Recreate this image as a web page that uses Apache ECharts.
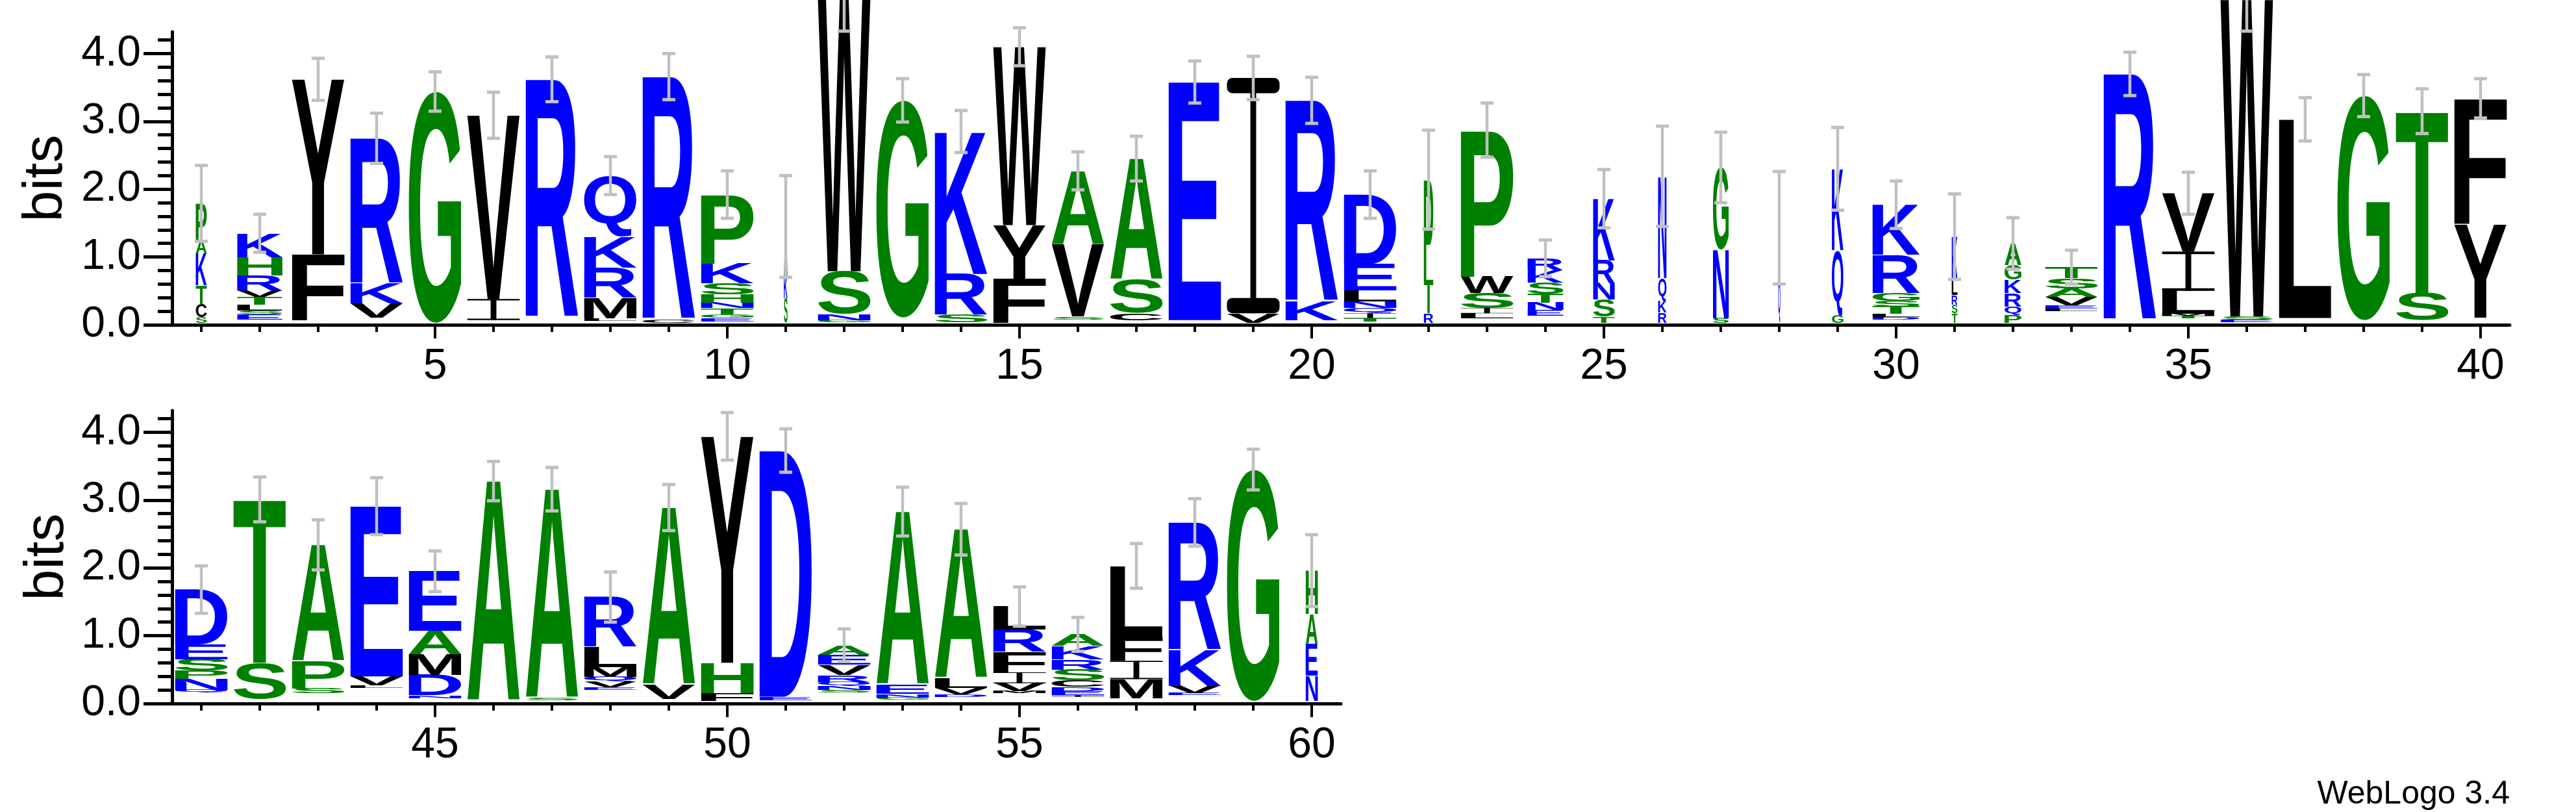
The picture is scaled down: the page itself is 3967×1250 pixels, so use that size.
<!DOCTYPE html>
<html>
<head>
<meta charset="utf-8">
<script src="https://cdn.jsdelivr.net/npm/echarts@6/dist/echarts.min.js"></script>
<style>
html,body{margin:0;padding:0;background:#ffffff;}
#chart{width:3967px;height:1250px;}
</style>
</head>
<body>
<div id="chart"></div>
<script>
// ---------------- DATA ----------------
const positionsTop = [1,2,3,4,5,6,7,8,9,10,11,12,13,14,15,16,17,18,19,20,21,22,23,24,25,26,27,28,29,30,31,32,33,34,35,36,37,38,39,40];
const positionsBottom = [41,42,43,44,45,46,47,48,49,50,51,52,53,54,55,56,57,58,59,60];

// fraction of non-gap sequences (stack width), per position 1..60
const stackWidth = [
  0.21,0.86,1,1,1,1,1,1,1,1,
  0.07,1,1,1,1,1,1,1,1,1,
  1,0.18,1,0.68,0.41,0.16,0.3,0.04,0.22,0.9,
  0.11,0.32,1,1,1,1,1,1,1,1,
  1,1,1,1,1,1,1,1,1,1,
  1,1,1,1,1,1,1,1,1,0.23
];

// bits taken by residues too small to be drawn (bottom of each stack)
const hiddenBits = [
  0.03,0.08,0.07,0.11,0.03,0.07,0.11,0.06,0.03,0.05,
  0.03,0.04,0.11,0.04,0.03,0.08,0.07,0.07,0.03,0.07,
  0.05,0.03,0.10,0.13,0.03,0.03,0.03,0.03,0.03,0.08,
  0.03,0.03,0.20,0.07,0.10,0.04,0.10,0.07,0.07,0.11,
  0.16,0.07,0.15,0.23,0.08,0.04,0.05,0.20,0.07,0.04,
  0.05,0.16,0.06,0.10,0.15,0.10,0.08,0.12,0.04,0.04
];

// half-length of the error bar (bits), per position
const errorBits = [
  0.56,0.28,0.31,0.37,0.29,0.34,0.33,0.28,0.34,0.35,
  0.75,0.47,0.32,0.31,0.28,0.28,0.33,0.31,0.32,0.34,
  0.35,0.73,0.40,0.27,0.43,0.74,0.52,0.83,0.61,0.35,
  0.63,0.38,0.25,0.32,0.31,0.47,0.32,0.31,0.33,0.29,
  0.35,0.33,0.37,0.42,0.30,0.29,0.32,0.37,0.34,0.35,
  0.32,0.24,0.36,0.38,0.29,0.25,0.33,0.35,0.30,0.53
];

// letter stacks, bottom to top: [residue, bits]
const stacks = [
  [['S',0.085],['C',0.195],['T',0.27],['K',0.47],['A',0.2],['P',0.54]],
  [['E',0.07],['S',0.06],['L',0.09],['T',0.11],['V',0.1],['R',0.22],['H',0.27],['K',0.35]],
  [['F',0.97],['Y',2.58]],
  [['V',0.21],['K',0.29],['R',2.14]],
  [['G',3.41]],
  [['I',0.31],['V',2.71]],
  [['R',3.51]],
  [['L',0.04],['M',0.3],['R',0.44],['K',0.46],['Q',0.9]],
  [['C',0.05],['R',3.58]],
  [['E',0.05],['G',0.055],['T',0.09],['N',0.085],['H',0.12],['S',0.165],['K',0.29],['P',1.015]],
  [['S',0.36],['K',0.33],['A',0.73]],
  [['G',0.03],['N',0.09],['S',0.63],['W',4.01]],
  [['G',3.2]],
  [['S',0.11],['R',0.6],['K',2.1]],
  [['F',0.65],['Y',0.79],['W',2.63]],
  [['S',0.04],['V',1.07],['A',1.08]],
  [['C',0.105],['S',0.495],['A',1.78]],
  [['E',3.51]],
  [['V',0.14],['I',3.47]],
  [['K',0.28],['R',2.96]],
  [['T',0.05],['I',0.07],['Q',0.08],['N',0.095],['L',0.16],['E',0.39],['D',1.025]],
  [['R',0.14],['T',0.49],['P',1.48]],
  [['L',0.07],['I',0.08],['S',0.22],['W',0.24],['P',2.16]],
  [['E',0.09],['N',0.105],['T',0.135],['S',0.16],['K',0.185],['R',0.175]],
  [['T',0.09],['S',0.25],['N',0.24],['R',0.34],['K',0.91]],
  [['R',0.15],['K',0.17],['Q',0.34],['N',1.5]],
  [['S',0.07],['N',1.01],['G',1.21]],
  [['Q',0.6],['K',0.8]],
  [['G',0.11],['Q',0.96],['K',1.2]],
  [['D',0.035],['L',0.045],['T',0.11],['S',0.085],['G',0.115],['R',0.56],['K',0.74]],
  [['T',0.14],['S',0.13],['R',0.14],['L',0.23],['K',0.63]],
  [['P',0.11],['Q',0.13],['R',0.2],['K',0.2],['G',0.21],['A',0.32]],
  [['L',0.04],['E',0.05],['V',0.12],['A',0.125],['S',0.155],['T',0.16]],
  [['R',3.63]],
  [['T',0.03],['M',0.03],['L',0.34],['I',0.58],['V',0.86]],
  [['E',0.035],['S',0.05],['W',4.675]],
  [['L',2.93]],
  [['G',3.31]],
  [['S',0.4],['T',2.68]],
  [['Y',1.38],['F',1.85]],
  [['Q',0.04],['N',0.16],['P',0.125],['S',0.17],['E',0.215],['D',0.81]],
  [['S',0.53],['T',2.41]],
  [['S',0.07],['P',0.41],['A',1.71]],
  [['L',0.04],['V',0.13],['E',2.51]],
  [['N',0.04],['D',0.3],['M',0.31],['A',0.34],['E',0.88]],
  [['A',3.24]],
  [['S',0.03],['A',3.08]],
  [['E',0.04],['V',0.085],['Q',0.07],['M',0.145],['L',0.295],['R',0.735]],
  [['V',0.21],['A',2.61]],
  [['F',0.11],['H',0.45],['Y',3.34]],
  [['E',0.05],['D',3.63]],
  [['S',0.04],['N',0.06],['Q',0.06],['R',0.1],['V',0.15],['E',0.15],['A',0.14]],
  [['G',0.03],['N',0.05],['E',0.14],['A',2.55]],
  [['D',0.03],['V',0.1],['L',0.15],['A',2.19]],
  [['M',0.03],['V',0.12],['I',0.16],['F',0.3],['R',0.33],['L',0.34]],
  [['I',0.02],['E',0.06],['D',0.065],['C',0.095],['S',0.16],['R',0.15],['K',0.2],['A',0.17]],
  [['M',0.28],['I',0.27],['F',0.34],['L',1.06]],
  [['E',0.03],['V',0.11],['K',0.53],['R',1.88]],
  [['G',3.41]],
  [['N',0.37],['E',0.46],['A',0.45],['H',0.64]]
];

const yTickValues = [0,1,2,3,4];
const yMinorTickValues = [0.2,0.4,0.6,0.8,1.2,1.4,1.6,1.8,2.2,2.4,2.6,2.8,3.2,3.4,3.6,3.8,4.2];
const xLabelsTop = [5,10,15,20,25,30,35,40];
const xLabelsBottom = [45,50,55,60];
const yMax = 4.32;

// ---------------- STYLE ----------------
const FONT_FAMILY = '"Liberation Sans", Arial, Helvetica, sans-serif';
const GLYPH_PX = 200;
const GLYPH_FONT = 'bold ' + GLYPH_PX + 'px ' + FONT_FAMILY;
const LETTER_FRACTION = 0.9;
const GRAY = '#c0c0c0';
const COLOR = {
  R:'#0000ff',K:'#0000ff',D:'#0000ff',E:'#0000ff',N:'#0000ff',Q:'#0000ff',
  S:'#008000',G:'#008000',H:'#008000',T:'#008000',A:'#008000',P:'#008000',
  Y:'#000000',V:'#000000',M:'#000000',C:'#000000',L:'#000000',F:'#000000',I:'#000000',W:'#000000'
};

const mctx = document.createElement('canvas').getContext('2d');
mctx.font = GLYPH_FONT;
mctx.textBaseline = 'middle';
mctx.textAlign = 'left';
const metricCache = {};
function glyphMetrics(ch) {
  if (!metricCache[ch]) {
    const m = mctx.measureText(ch);
    metricCache[ch] = {
      l: -m.actualBoundingBoxLeft, r: m.actualBoundingBoxRight,
      t: -m.actualBoundingBoxAscent, b: m.actualBoundingBoxDescent
    };
  }
  return metricCache[ch];
}

function glyphElements(ch, x0, x1, yTop, yBot) {
  const w = x1 - x0, h = yBot - yTop;
  const fill = COLOR[ch] || '#000';
  if (h <= 0 || w <= 0) return [];
  if (ch === 'I') {
    const bar = Math.max(0.6, h * 0.065);
    const stem = Math.max(0.8, w * 0.11);
    const r = bar * 0.35;
    return [
      {type:'rect', silent:true, shape:{x:x0, y:yTop, width:w, height:bar, r:r}, style:{fill:fill}},
      {type:'rect', silent:true, shape:{x:x0 + (w - stem)/2, y:yTop, width:stem, height:h}, style:{fill:fill}},
      {type:'rect', silent:true, shape:{x:x0, y:yBot - bar, width:w, height:bar, r:r}, style:{fill:fill}}
    ];
  }
  const m = glyphMetrics(ch);
  const sx = w / (m.r - m.l);
  const sy = h / (m.b - m.t);
  return [{
    type:'text', silent:true,
    x: x0 - sx * m.l, y: yTop - sy * m.t,
    scaleX: sx, scaleY: sy,
    style:{text: ch, x:0, y:0, font: GLYPH_FONT, fill: fill,
           align:'left', verticalAlign:'middle', textAlign:'left', textVerticalAlign:'middle'}
  }];
}

function stackTop(i) {
  let t = hiddenBits[i];
  stacks[i].forEach(function (e) { t += e[1]; });
  return t;
}

function renderLetters(params, api) {
  const pos = api.value(0);
  const i = pos - 1;
  const half = stackWidth[i] * LETTER_FRACTION / 2;
  let base = hiddenBits[i];
  let children = [];
  stacks[i].forEach(function (e) {
    const a = api.coord([pos - half, base]);
    const b = api.coord([pos + half, base + e[1]]);
    children = children.concat(glyphElements(e[0], a[0], b[0], b[1], a[1]));
    base += e[1];
  });
  return {type:'group', children: children};
}

function renderError(params, api) {
  const pos = api.value(0);
  const top = api.value(1);
  const e = errorBits[pos - 1];
  const hi = api.coord([pos, top + e]);
  const lo = api.coord([pos, top - e]);
  const cap = 10;
  const x = hi[0];
  return {type:'group', children:[
    {type:'line', silent:true, shape:{x1:x, y1:hi[1], x2:x, y2:lo[1]}, style:{stroke:GRAY, lineWidth:4.5}},
    {type:'line', silent:true, shape:{x1:x-cap, y1:hi[1], x2:x+cap, y2:hi[1]}, style:{stroke:GRAY, lineWidth:5}},
    {type:'line', silent:true, shape:{x1:x-cap, y1:lo[1], x2:x+cap, y2:lo[1]}, style:{stroke:GRAY, lineWidth:5}}
  ]};
}

function xAxesFor(g, min, max, ticks, labels) {
  return [
    {type:'value', gridIndex:g, min:min, max:max, position:'bottom',
     axisLine:{show:true, onZero:false, lineStyle:{color:'#000', width:5}},
     axisTick:{show:true, customValues:ticks, length:11, lineStyle:{color:'#000', width:4}},
     axisLabel:{show:false}, splitLine:{show:false}},
    {type:'value', gridIndex:g, min:min, max:max, position:'bottom',
     axisLine:{show:false, onZero:false},
     axisTick:{show:true, customValues:labels, length:21, lineStyle:{color:'#000', width:4}},
     axisLabel:{show:true, customValues:labels, margin:32, fontSize:66, fontFamily:FONT_FAMILY, color:'#000'},
     splitLine:{show:false}}
  ];
}
function yAxesFor(g) {
  return [
    {type:'value', gridIndex:g, min:0, max:yMax, position:'left',
     name:'bits', nameLocation:'middle', nameGap:149,
     nameTextStyle:{fontSize:86, fontFamily:FONT_FAMILY, color:'#000'},
     axisLine:{show:true, onZero:false, lineStyle:{color:'#000', width:5}},
     axisTick:{show:true, customValues:yTickValues, length:44, lineStyle:{color:'#000', width:5}},
     axisLabel:{show:true, customValues:yTickValues, formatter:function (v) { return Number(v).toFixed(1); },
                margin:48, fontSize:66, fontFamily:FONT_FAMILY, color:'#000'},
     splitLine:{show:false}},
    {type:'value', gridIndex:g, min:0, max:yMax, position:'left',
     axisLine:{show:false, onZero:false},
     axisTick:{show:true, customValues:yMinorTickValues, length:22, lineStyle:{color:'#000', width:5}},
     axisLabel:{show:false}, splitLine:{show:false}}
  ];
}

const topData = positionsTop.map(function (p) { return [p, stackTop(p - 1)]; });
const bottomData = positionsBottom.map(function (p) { return [p, stackTop(p - 1)]; });

const chart = echarts.init(document.getElementById('chart'), null, {renderer:'canvas'});
chart.setOption({
  animation:false,
  backgroundColor:'#ffffff',
  grid:[
    {left:265, top:49, width:3600, height:451, outerBoundsMode:'none', containLabel:false},
    {left:265, top:632, width:1800, height:451, outerBoundsMode:'none', containLabel:false}
  ],
  xAxis: xAxesFor(0, 0.5, 40.5, positionsTop, xLabelsTop).concat(xAxesFor(1, 40.5, 60.5, positionsBottom, xLabelsBottom)),
  yAxis: yAxesFor(0).concat(yAxesFor(1)),
  series:[
    {type:'custom', name:'logo 1-40', xAxisIndex:0, yAxisIndex:0, renderItem:renderLetters, data:topData, clip:false, z:2},
    {type:'custom', name:'error 1-40', xAxisIndex:0, yAxisIndex:0, renderItem:renderError, data:topData, clip:false, z:3},
    {type:'custom', name:'logo 41-60', xAxisIndex:2, yAxisIndex:2, renderItem:renderLetters, data:bottomData, clip:false, z:2},
    {type:'custom', name:'error 41-60', xAxisIndex:2, yAxisIndex:2, renderItem:renderError, data:bottomData, clip:false, z:3}
  ],
  graphic:[
    {type:'text', x:3865, y:1223, silent:true,
     style:{text:'WebLogo 3.4', font:'50px ' + FONT_FAMILY, fill:'#000', align:'right', verticalAlign:'middle', textAlign:'right', textVerticalAlign:'middle'}}
  ]
});
</script>
</body>
</html>
